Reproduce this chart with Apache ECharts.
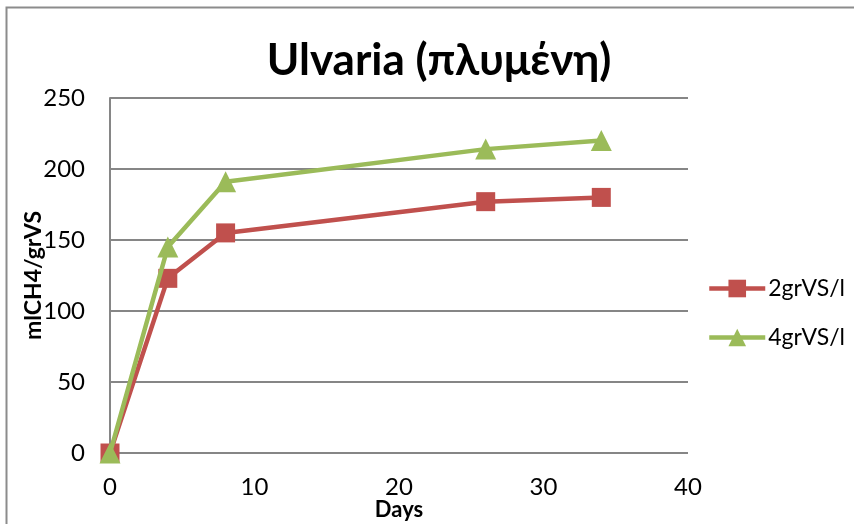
<!DOCTYPE html>
<html>
<head>
<meta charset="utf-8">
<script src="https://cdn.jsdelivr.net/npm/echarts@6/dist/echarts.min.js"></script>
<style>
  html, body { margin: 0; padding: 0; background: #fff; }
  #chart { width: 854px; height: 524px; }
</style>
</head>
<body>
<div id="chart"></div>
<script>
// Cumulative methane yield over time
const days = [0, 4, 8, 26, 34];
const load2 = [0, 123, 155, 177, 180];
const load4 = [0, 145, 191, 214, 220];
const seriesNames = ['2grVS/l', '4grVS/l'];
const yTicks = [0, 50, 100, 150, 200, 250];
const xTicks = [0, 10, 20, 30, 40];

const FONT = 'Lato, "Noto Sans", sans-serif';

const chart = echarts.init(document.getElementById('chart'), null, { renderer: 'canvas' });

chart.setOption({
  animation: false,
  backgroundColor: '#ffffff',
  title: {
    text: 'Ulvaria (πλυμένη)',
    left: 434,
    top: 34,
    textAlign: 'center',
    textStyle: { fontFamily: FONT, fontSize: 44, fontWeight: 'bold', color: '#000' }
  },
  graphic: [{
    type: 'rect',
    shape: { x: 6.5, y: 7.5, width: 900, height: 600 },
    style: { fill: 'none', stroke: '#8c8c8c', lineWidth: 2 },
    silent: true
  }],
  grid: { left: 110, right: 166, top: 98, bottom: 71, outerBoundsMode: 'none', containLabel: false },
  legend: {
    orient: 'vertical',
    left: 702,
    top: 272,
    itemWidth: 56,
    itemHeight: 22,
    itemGap: 26,
    lineStyle: { width: 4.5 },
    textStyle: { fontFamily: FONT, fontSize: 23, color: '#000', padding: [0, 0, 0, -2] },
    data: seriesNames
  },
  xAxis: {
    type: 'value',
    min: xTicks[0],
    max: xTicks[xTicks.length - 1],
    interval: 10,
    name: 'Days',
    nameLocation: 'middle',
    nameGap: 46,
    nameMoveOverlap: false,
    nameTextStyle: { fontFamily: FONT, fontSize: 22, fontWeight: 'bold', color: '#000' },
    axisLine: { show: false },
    axisTick: { show: false },
    splitLine: { show: false },
    axisLabel: { margin: 22, fontFamily: FONT, fontSize: 24, color: '#000' }
  },
  yAxis: {
    type: 'value',
    min: yTicks[0],
    max: yTicks[yTicks.length - 1],
    interval: 50,
    name: 'mlCH4/grVS',
    nameLocation: 'middle',
    nameGap: 65,
    nameMoveOverlap: false,
    nameRotate: 90,
    nameTextStyle: { fontFamily: FONT, fontSize: 23, fontWeight: 'bold', color: '#000' },
    axisLine: { show: true, lineStyle: { color: '#868686', width: 2 } },
    axisTick: { show: false },
    splitLine: { show: true, lineStyle: { color: '#868686', width: 2 } },
    axisLabel: { margin: 25, fontFamily: FONT, fontSize: 24, color: '#000' }
  },
  series: [
    {
      name: seriesNames[0],
      type: 'line',
      data: days.map((d, i) => [d, load2[i]]),
      symbol: 'rect',
      symbolSize: 19,
      lineStyle: { color: '#C0504D', width: 4.5 },
      itemStyle: { color: '#C0504D' },
      z: 2
    },
    {
      name: seriesNames[1],
      type: 'line',
      data: days.map((d, i) => [d, load4[i]]),
      symbol: 'triangle',
      symbolSize: 21,
      lineStyle: { color: '#9BBB59', width: 4.5 },
      itemStyle: { color: '#9BBB59' },
      z: 3
    }
  ]
});
</script>
</body>
</html>
